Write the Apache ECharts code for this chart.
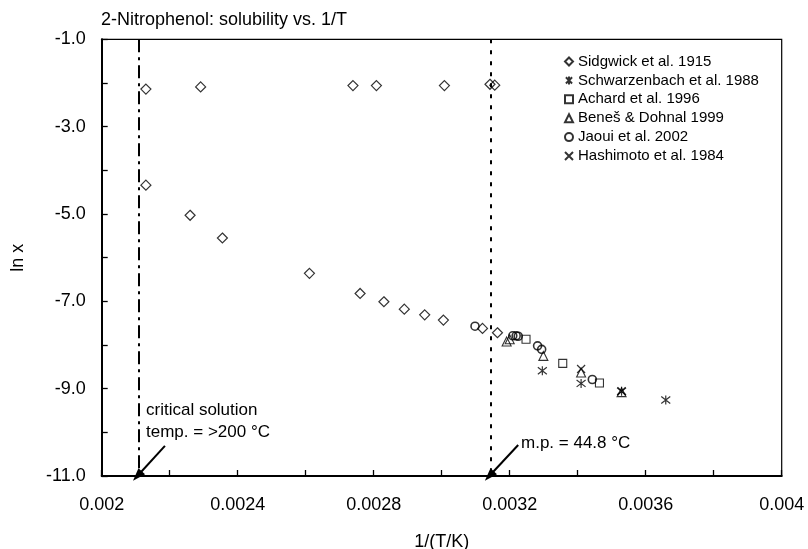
<!DOCTYPE html>
<html>
<head>
<meta charset="utf-8">
<title>2-Nitrophenol solubility</title>
<script src="https://cdn.jsdelivr.net/npm/echarts@6/dist/echarts.min.js"></script>
<style>
    html, body { margin: 0; padding: 0; background: #fff; }
    #chart { width: 808px; height: 549px; }
</style>
</head>
<body>
<div id="chart"></div>
<script>
// data: [1/(T/K), ln x]
var sidgwick = [
    [0.00213, -2.14], [0.002291, -2.09], [0.002739, -2.06], [0.002808, -2.06],
    [0.003008, -2.06], [0.003142, -2.03], [0.003156, -2.05],
    [0.00213, -4.34], [0.00226, -5.03], [0.002355, -5.55], [0.002611, -6.36],
    [0.00276, -6.82], [0.00283, -7.01], [0.00289, -7.18], [0.00295, -7.31],
    [0.003005, -7.43], [0.00312, -7.62], [0.003164, -7.72]
];
var schwarzenbach = [[0.003296, -8.59], [0.00341, -8.88], [0.003529, -9.06], [0.003659, -9.26]];
var achard = [[0.003248, -7.87], [0.003356, -8.42], [0.003464, -8.87]];
var benes = [[0.003191, -7.92], [0.0032, -7.87], [0.003299, -8.25], [0.00341, -8.63], [0.003529, -9.08]];
var jaoui = [
    [0.003098, -7.57], [0.003209, -7.79], [0.003219, -7.79], [0.003225, -7.8],
    [0.003282, -8.02], [0.003294, -8.1], [0.003443, -8.79]
];
var hashimoto = [[0.00341, -8.55], [0.003529, -9.06]];

var names = ["Sidgwick et al. 1915", "Schwarzenbach et al. 1988", "Achard et al. 1996",
    "Beneš & Dohnal 1999", "Jaoui et al. 2002", "Hashimoto et al. 1984"];

// vertical reference lines: critical solution temp, melting point
var critLine = 0.00211,
    mpLine = 0.003145,
    yRange = [-1, -11];
// arrows [from, to]
var critArrow = [[0.002186, -10.31], [0.002105, -11]],
    mpArrow = [[0.003225, -10.29], [0.00314, -11]];

var font = "'Liberation Sans', Arial, sans-serif";
var asterisk = "path://M-1,-1L1,1M1,-1L-1,1M0,-1.3L0,1.3",
    cross = "path://M-1,-1L1,1M1,-1L-1,1";

function pts(name, data, symbol, size, bw) {
    return {
        name: name,
        type: "scatter",
        data: data,
        symbol: symbol,
        symbolSize: size,
        itemStyle: {
            color: "rgba(255,255,255,0)",
            borderColor: "#000",
            borderWidth: bw
        },
        emphasis: { disabled: true }
    };
}

function vline(x, dash) {
    return [
        { coord: [x, yRange[0]], lineStyle: { type: dash } },
        { coord: [x, yRange[1]] }
    ];
}

var chart = echarts.init(document.getElementById("chart"));

chart.setOption({
    animation: false,
    backgroundColor: "#fff",
    textStyle: { fontFamily: font, color: "#000" },
    title: {
        text: "2-Nitrophenol: solubility vs. 1/T",
        left: 101,
        top: 11,
        padding: 0,
        textStyle: { fontFamily: font, fontSize: 18, fontWeight: "normal", color: "#000" }
    },
    legend: {
        data: names,
        orient: "vertical",
        left: 564,
        top: 54,
        padding: 0,
        itemWidth: 8,
        itemHeight: 8,
        itemGap: 3.9,
        textStyle: { fontFamily: font, fontSize: 15, color: "#000", lineHeight: 15 }
    },
    grid: {
        left: 101.7,
        right: 26.3,
        top: 39.3,
        bottom: 73,
        outerBoundsMode: "none",
        show: true,
        borderColor: "#000",
        borderWidth: 1.2
    },
    xAxis: {
        type: "value",
        min: 0.002,
        max: 0.004,
        interval: 0.0002,
        name: "1/(T/K)",
        nameLocation: "middle",
        nameGap: 57,
        nameTextStyle: { fontFamily: font, fontSize: 18, color: "#000" },
        axisLine: { lineStyle: { color: "#000", width: 2 } },
        axisTick: { inside: true, length: 6, lineStyle: { color: "#000", width: 1.3 } },
        splitLine: { show: false },
        axisLabel: {
            margin: 20,
            fontFamily: font,
            fontSize: 18,
            color: "#000",
            formatter: function(v) {
                var k = Math.round((v - 0.002) / 0.0002);
                return k % 2 === 0 ? String(parseFloat(v.toFixed(4))) : "";
            }
        }
    },
    yAxis: {
        type: "value",
        min: -11,
        max: -1,
        interval: 1,
        name: "ln x",
        nameLocation: "middle",
        nameGap: 75,
        nameTextStyle: { fontFamily: font, fontSize: 18, color: "#000" },
        axisLine: { lineStyle: { color: "#000", width: 2 } },
        axisTick: { inside: true, length: 6, lineStyle: { color: "#000", width: 1.3 } },
        splitLine: { show: false },
        axisLabel: {
            margin: 16,
            fontFamily: font,
            fontSize: 18,
            color: "#000",
            formatter: function(v) {
                return Math.abs(Math.round(v)) % 2 === 1 ? v.toFixed(1) : "";
            }
        }
    },
    graphic: [{
        type: "text",
        left: 146,
        top: 400,
        style: {
            text: "critical solution\ntemp. = >200 °C",
            font: "17px " + font,
            fill: "#000",
            lineHeight: 21.6
        }
    }, {
        type: "text",
        left: 521,
        top: 435,
        style: {
            text: "m.p. = 44.8 °C",
            font: "17px " + font,
            fill: "#000"
        }
    }],
    series: [
        pts(names[0], sidgwick, "diamond", 10, 1.2),
        pts(names[1], schwarzenbach, asterisk, 9, 1.2),
        pts(names[2], achard, "rect", 8, 1.1),
        pts(names[3], benes, "triangle", 9, 1.1),
        pts(names[4], jaoui, "circle", 8, 1.6),
        pts(names[5], hashimoto, cross, 8, 1.2),
        {
            name: "refs",
            type: "scatter",
            data: [],
            silent: true,
            markLine: {
                silent: true,
                symbol: "none",
                label: { show: false },
                lineStyle: { color: "#000", width: 2 },
                data: [vline(critLine, [13, 5, 3, 5]), vline(mpLine, [4, 7])]
            }
        },
        {
            name: "arrows",
            type: "scatter",
            data: [],
            silent: true,
            markLine: {
                silent: true,
                symbol: ["none", "triangle"],
                symbolSize: [9, 13],
                label: { show: false },
                lineStyle: { color: "#000", width: 2, type: "solid" },
                itemStyle: { color: "#000" },
                data: [
                    [{ coord: critArrow[0] }, { coord: critArrow[1] }],
                    [{ coord: mpArrow[0] }, { coord: mpArrow[1] }]
                ]
            }
        }
    ]
});
</script>
</body>
</html>
